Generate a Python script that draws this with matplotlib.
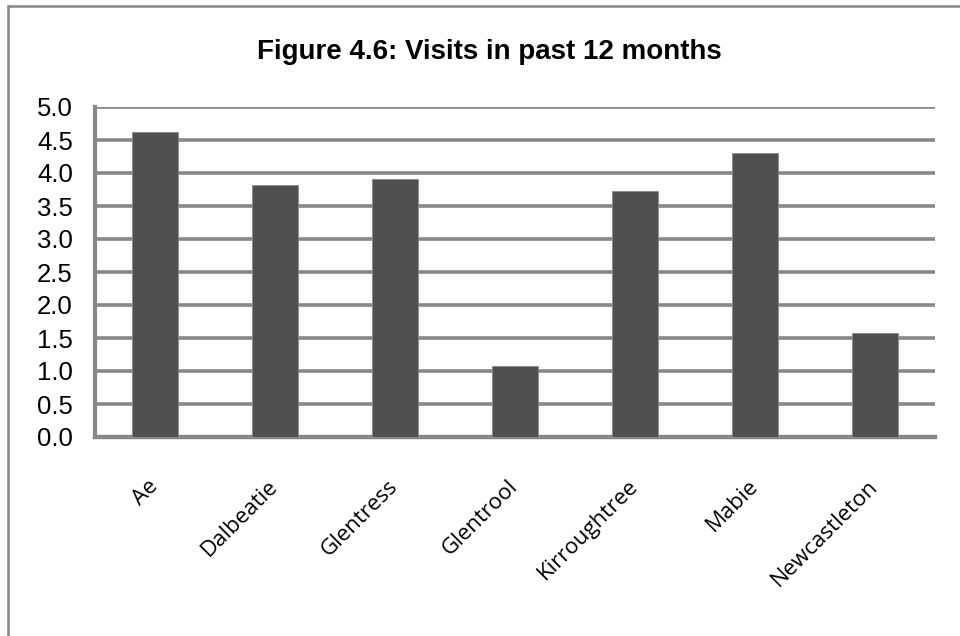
import matplotlib
matplotlib.use("Agg")
import matplotlib.pyplot as plt
from matplotlib.patches import Rectangle

categories = ["Ae", "Dalbeatie", "Glentress", "Glentrool", "Kirroughtree", "Mabie", "Newcastleton"]
values = [4.62, 3.82, 3.91, 1.08, 3.72, 4.31, 1.58]
yticks = [0.0, 0.5, 1.0, 1.5, 2.0, 2.5, 3.0, 3.5, 4.0, 4.5, 5.0]
title = "Figure 4.6: Visits in past 12 months"

W, H = 960, 636
fig = plt.figure(figsize=(W / 100, H / 100), dpi=100)
fig.patch.set_facecolor("white")

# outer chart frame (only top and left visible)
fig.patches.append(Rectangle((8 / W, -0.1), 1.2, 1 - 6 / H + 0.1, transform=fig.transFigure,
                             fill=False, edgecolor="#878787", linewidth=1.8))

ax = fig.add_axes([95 / W, 1 - 437 / H, (935 - 95) / W, (437 - 107) / H])
x = list(range(len(categories)))
ax.bar(x, values, width=0.39, color="#505050", edgecolor="#8a8a8a", linewidth=0.6, zorder=3)
ax.set_xlim(-0.5, len(categories) - 0.5)
ax.set_ylim(0, 5.0)
ax.set_yticks(yticks)
ax.set_yticklabels([f"{v:.1f}" for v in yticks], fontsize=18.5, family=["Liberation Sans", "DejaVu Sans"])
ax.tick_params(axis="y", length=0, pad=16)
ax.tick_params(axis="x", length=0, pad=33)
ax.set_xticks(x)
ax.set_xticklabels(categories, rotation=45, ha="right", va="center", rotation_mode="anchor",
                   fontsize=16, family=["Open Sans", "DejaVu Sans"])
ax.grid(axis="y", color="#878787", linewidth=2.6, zorder=1)
ax.set_axisbelow(True)
for s in ["top", "right"]:
    ax.spines[s].set_visible(False)
ax.spines["left"].set_color("#878787")
ax.spines["left"].set_linewidth(3)
ax.spines["bottom"].set_color("#878787")
ax.spines["bottom"].set_linewidth(3.2)
ax.spines["left"].set_zorder(4)

fig.text(489 / W, 1 - 52 / H, title, ha="center", va="center", fontsize=20, fontweight="bold",
         family=["Liberation Sans", "DejaVu Sans"])

fig.savefig("out.png", dpi=100)
